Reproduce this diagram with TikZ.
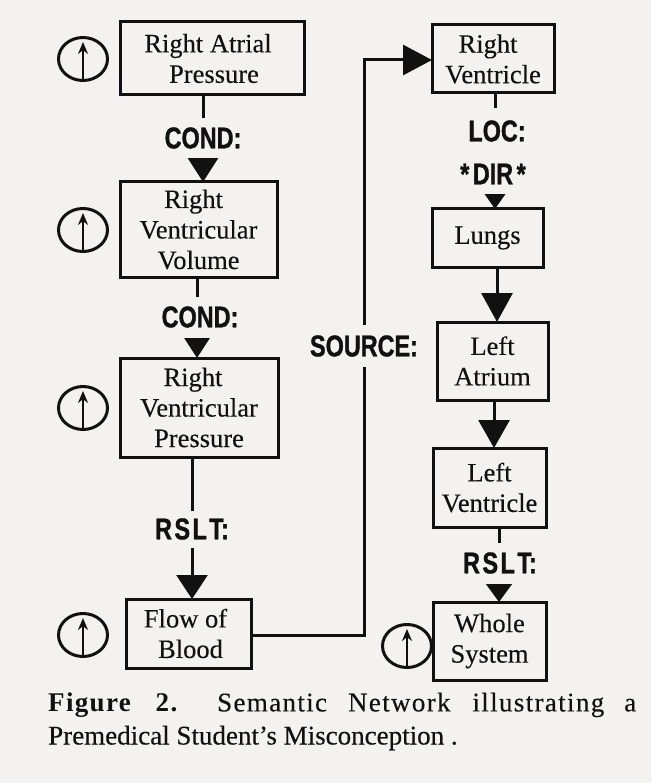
\documentclass[tikz,border=0pt]{standalone}
\usepackage{fontspec}
\setmainfont[FakeBold=0.25]{Liberation Serif}
\newfontfamily\lab[UprightFont=* Bold,FakeStretch=0.78,FakeBold=1.1]{Liberation Sans}
\newfontfamily\capreg[LetterSpace=5,FakeBold=0.25]{Liberation Serif}
\newfontfamily\capbold[UprightFont=* Bold,LetterSpace=5]{Liberation Serif}
\usetikzlibrary{arrows.meta,calc,shapes.geometric}
\definecolor{ink}{HTML}{111111}
\definecolor{paper}{HTML}{F3F2F0}
\tikzset{
 x=1pt,y=-1pt,
 box/.style={draw=ink,line width=3pt,outer sep=0pt,align=center,font=\fontsize{26.5}{30.5}\selectfont,text=ink,inner sep=0pt},
 lnk/.style 2 args={draw=ink,line width=3pt,-{Triangle[length=#1pt,width=#2pt]}},
 lbl/.style={font=\lab\fontsize{30}{32}\selectfont,text=ink,inner xsep=1pt,inner ysep=0pt,fill=paper,minimum height=#1pt},
 upc/.style={ellipse,draw=ink,line width=3pt,minimum width=49pt,minimum height=43pt,inner sep=0pt},
 upa/.style={draw=ink,line width=2.6pt,-{Stealth[length=12pt,width=10pt]}},
 caption/.style={text=ink,anchor=west,inner sep=0pt,font=\fontsize{27}{32}\selectfont}
}
\newcommand{\boxat}[6]{\node[box,minimum width={(#4-#2)*1pt},minimum height={(#5-#3)*1pt}] (#1) at ({(#2+#4)/2},{(#3+#5)/2}) {#6};}
\newcommand{\upat}[3]{\node[upc] (#1) at (#2,#3) {}; \draw[upa] (#1.south) -- ([yshift=-6pt]#1.north);}
\newcommand{\gapw}[1]{\hspace{0pt plus #1fil}}
\begin{document}
\begin{tikzpicture}
\useasboundingbox (0,0) rectangle (651,783);
\fill[paper] (0,0) rectangle (651,783);
\boxat{a}{120}{22}{304}{95}{Right Atrial\hspace*{8pt}\\\hspace*{4pt}Pressure}
\boxat{b}{120}{182}{277}{277}{Right\hspace*{10pt}\\Ventricular\\Volume}
\boxat{c}{120}{358}{278}{457}{Right\hspace*{12pt}\\Ventricular\\Pressure}
\boxat{d}{126}{599}{251}{668}{Flow of\hspace*{6pt}\\\hspace*{4pt}Blood}
\boxat{e}{432}{25}{554}{93}{Right\hspace*{10pt}\\Ventricle}
\boxat{f}{432}{209}{543}{267}{Lungs}
\boxat{g}{437}{322}{548}{400}{Left\\Atrium}
\boxat{h}{433}{448}{546}{527}{Left\\Ventricle}
\boxat{i}{433}{602}{546}{680}{Whole\\System}
\upat{u1}{83}{59}
\upat{u2}{83}{230}
\upat{u3}{83}{408}
\upat{u4}{83}{635}
\upat{u5}{407}{646}
\draw[lnk={24}{30}] (a.south -| 203,0) -- (b.north -| 203,0);
\draw[lnk={20}{25}] (b.south -| 197,0) -- (c.north -| 197,0);
\draw[lnk={24}{31}] (c.south -| 192,0) -- (d.north -| 192,0);
\draw[lnk={17}{23}] (e.south -| 495,0) -- (f.north -| 495,0);
\draw[lnk={29}{31}] (f.south -| 497,0) -- (g.north -| 497,0);
\draw[lnk={28}{31}] (g.south -| 494,0) -- (h.north -| 494,0);
\draw[lnk={19}{27}] (h.south -| 499,0) -- (i.north -| 499,0);
\draw[lnk={29}{30}] (d.east |- 0,635) -- (364,635) -- (364,60) -- (e.west |- 0,60);
\node[lbl=40] (l1) at (203,138) {COND:};
\node[lbl=41] (l2) at (200,317) {COND:};
\node[lbl=37] (l3) at (192,529) {R\kern2.5pt S\kern2.5pt L\kern2.5pt T:};
\node[lbl=46] (l4) at (497,131) {LOC:};
\node[lbl=40] (l5) at (493,174) {*\kern3.5pt DIR\kern3.5pt *};
\node[lbl=41] (l6) at (500,563) {R\kern2.5pt S\kern2.5pt L\kern2.5pt T:};
\node[lbl=42] (l7) at (364,346) {SOURCE:};
\node[caption] (t1) at (48,705) {\makebox[588pt][s]{{\capbold Figure}\gapw{26}{\capbold 2.}\gapw{42}{\capreg Semantic}\gapw{22}{\capreg Network}\gapw{23}{\capreg illustrating}\gapw{21}{\capreg a}}};
\node[caption] (t2) at (48,738) {\addfontfeature{FakeBold=0.25}Premedical Student's Misconception .};
\end{tikzpicture}
\end{document}
